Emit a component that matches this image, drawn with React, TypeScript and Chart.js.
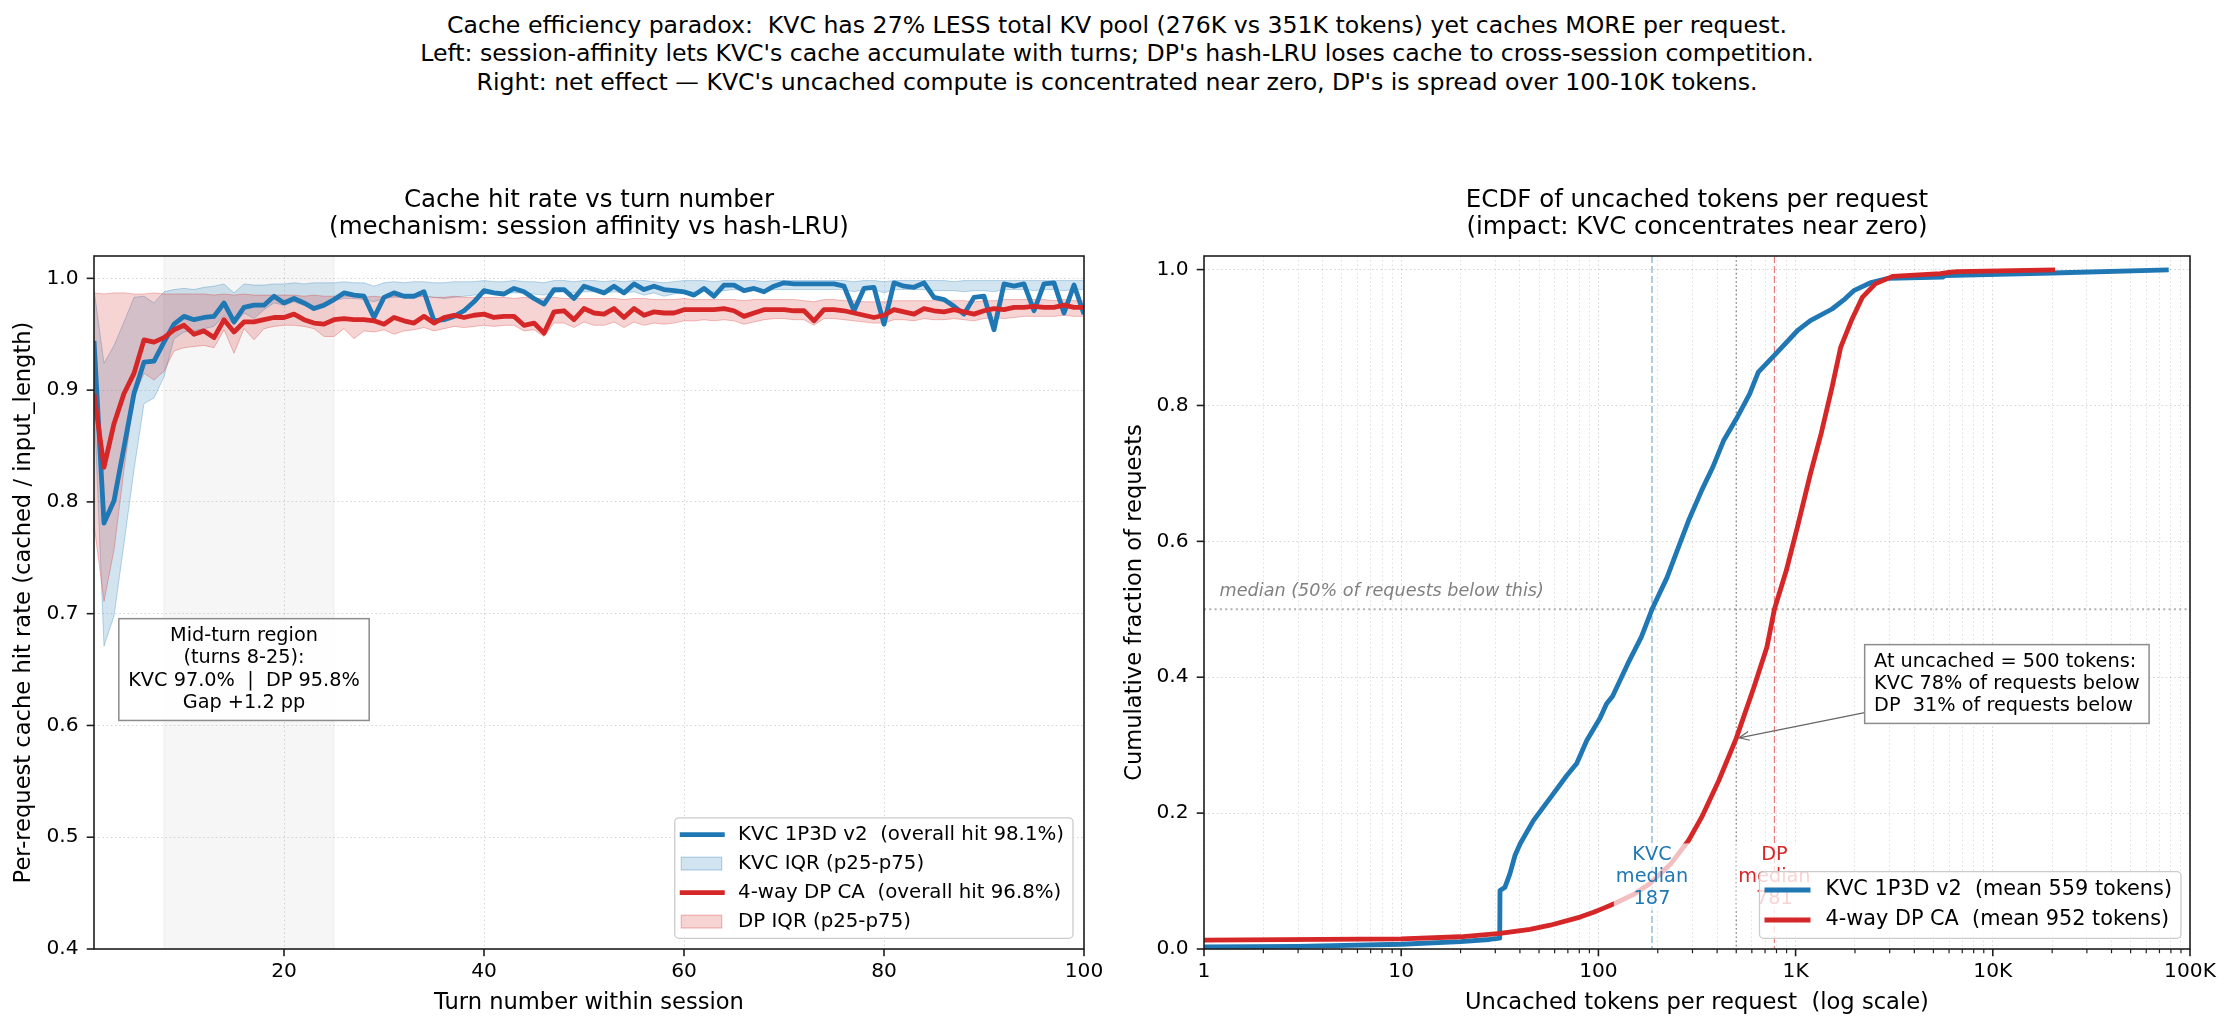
import { useEffect, useRef } from "react";
import { Chart, registerables } from "chart.js";

Chart.register(...registerables);

// ---------------------------------------------------------------------------
// Left panel: per-request cache hit rate by turn number (turns 1..100)
// ---------------------------------------------------------------------------
const kvcMean = [
  0.944, 0.781, 0.801, 0.849, 0.897, 0.925, 0.926, 0.943, 0.959, 0.966,
  0.963, 0.965, 0.966, 0.978, 0.961, 0.974, 0.976, 0.976, 0.984, 0.978,
  0.982, 0.978, 0.973, 0.976, 0.981, 0.987, 0.985, 0.984, 0.965, 0.983,
  0.987, 0.984, 0.984, 0.988, 0.962, 0.963, 0.966, 0.971, 0.979, 0.989,
  0.987, 0.986, 0.991, 0.988, 0.982, 0.977, 0.990, 0.990, 0.982, 0.993,
  0.990, 0.987, 0.993, 0.987, 0.995, 0.990, 0.993, 0.990, 0.989, 0.988,
  0.985, 0.991, 0.984, 0.994, 0.994, 0.989, 0.991, 0.988, 0.993, 0.996,
  0.995, 0.995, 0.995, 0.995, 0.995, 0.993, 0.971, 0.991, 0.992, 0.959,
  0.996, 0.993, 0.992, 0.996, 0.983, 0.981, 0.975, 0.968, 0.983, 0.984,
  0.954, 0.995, 0.993, 0.995, 0.971, 0.995, 0.996, 0.969, 0.994, 0.968,
];
const kvcP25 = [
  0.890, 0.671, 0.698, 0.763, 0.829, 0.888, 0.893, 0.912, 0.946, 0.952,
  0.953, 0.955, 0.957, 0.967, 0.958, 0.969, 0.964, 0.972, 0.978, 0.976,
  0.979, 0.976, 0.975, 0.978, 0.980, 0.982, 0.982, 0.981, 0.979, 0.982,
  0.983, 0.983, 0.984, 0.984, 0.983, 0.982, 0.983, 0.984, 0.985, 0.986,
  0.986, 0.987, 0.987, 0.987, 0.986, 0.985, 0.987, 0.988, 0.987, 0.988,
  0.988, 0.987, 0.988, 0.987, 0.988, 0.985, 0.987, 0.984, 0.986, 0.988,
  0.988, 0.989, 0.988, 0.989, 0.990, 0.989, 0.989, 0.989, 0.990, 0.990,
  0.990, 0.990, 0.990, 0.990, 0.990, 0.990, 0.988, 0.990, 0.990, 0.987,
  0.990, 0.990, 0.990, 0.990, 0.989, 0.989, 0.989, 0.988, 0.989, 0.989,
  0.988, 0.990, 0.990, 0.990, 0.989, 0.990, 0.990, 0.989, 0.990, 0.990,
];
const kvcP75 = [
  0.990, 0.924, 0.940, 0.961, 0.983, 0.984, 0.978, 0.988, 0.990, 0.991,
  0.990, 0.992, 0.993, 0.995, 0.987, 0.995, 0.994, 0.994, 0.995, 0.995,
  0.996, 0.995, 0.996, 0.996, 0.996, 0.997, 0.996, 0.996, 0.993, 0.996,
  0.997, 0.996, 0.997, 0.997, 0.996, 0.996, 0.997, 0.997, 0.997, 0.998,
  0.997, 0.997, 0.998, 0.997, 0.997, 0.996, 0.998, 0.998, 0.997, 0.998,
  0.998, 0.997, 0.998, 0.997, 0.998, 0.998, 0.997, 0.996, 0.997, 0.998,
  0.998, 0.998, 0.997, 0.998, 0.998, 0.998, 0.998, 0.997, 0.998, 0.998,
  0.998, 0.998, 0.998, 0.998, 0.998, 0.998, 0.997, 0.998, 0.998, 0.997,
  0.998, 0.998, 0.998, 0.998, 0.998, 0.998, 0.997, 0.998, 0.998, 0.998,
  0.998, 0.998, 0.998, 0.998, 0.998, 0.998, 0.998, 0.998, 0.998, 0.998,
];
const dpMean = [
  0.897, 0.831, 0.870, 0.897, 0.915, 0.945, 0.943, 0.947, 0.954, 0.958,
  0.950, 0.953, 0.947, 0.963, 0.952, 0.961, 0.961, 0.963, 0.965, 0.965,
  0.968, 0.963, 0.960, 0.959, 0.963, 0.964, 0.963, 0.963, 0.962, 0.959,
  0.965, 0.962, 0.960, 0.966, 0.960, 0.965, 0.967, 0.965, 0.967, 0.968,
  0.965, 0.966, 0.966, 0.958, 0.960, 0.951, 0.970, 0.971, 0.963, 0.973,
  0.969, 0.968, 0.973, 0.965, 0.973, 0.967, 0.970, 0.969, 0.969, 0.972,
  0.972, 0.972, 0.972, 0.973, 0.971, 0.966, 0.969, 0.972, 0.972, 0.972,
  0.971, 0.971, 0.962, 0.972, 0.972, 0.971, 0.969, 0.967, 0.965, 0.967,
  0.972, 0.970, 0.968, 0.973, 0.971, 0.970, 0.972, 0.970, 0.968, 0.971,
  0.973, 0.972, 0.974, 0.974, 0.975, 0.974, 0.974, 0.976, 0.974, 0.974,
];
const dpP25 = [
  0.780, 0.711, 0.757, 0.829, 0.894, 0.915, 0.909, 0.917, 0.935, 0.938,
  0.939, 0.940, 0.938, 0.954, 0.933, 0.955, 0.945, 0.955, 0.957, 0.958,
  0.958, 0.957, 0.955, 0.948, 0.948, 0.955, 0.946, 0.953, 0.952, 0.954,
  0.950, 0.953, 0.954, 0.956, 0.953, 0.955, 0.957, 0.956, 0.957, 0.958,
  0.957, 0.958, 0.958, 0.953, 0.954, 0.948, 0.960, 0.960, 0.956, 0.961,
  0.958, 0.958, 0.961, 0.956, 0.961, 0.958, 0.960, 0.959, 0.960, 0.962,
  0.962, 0.963, 0.962, 0.963, 0.962, 0.959, 0.961, 0.963, 0.964, 0.964,
  0.963, 0.963, 0.958, 0.964, 0.964, 0.963, 0.962, 0.961, 0.960, 0.960,
  0.963, 0.963, 0.962, 0.964, 0.963, 0.963, 0.964, 0.963, 0.962, 0.964,
  0.965, 0.964, 0.965, 0.966, 0.966, 0.966, 0.966, 0.967, 0.966, 0.966,
];
const dpP75 = [
  0.987, 0.986, 0.987, 0.987, 0.986, 0.986, 0.987, 0.986, 0.986, 0.986,
  0.986, 0.986, 0.985, 0.986, 0.985, 0.986, 0.985, 0.985, 0.985, 0.985,
  0.985, 0.984, 0.985, 0.984, 0.984, 0.984, 0.984, 0.983, 0.984, 0.983,
  0.984, 0.983, 0.983, 0.984, 0.983, 0.983, 0.984, 0.983, 0.983, 0.983,
  0.983, 0.983, 0.982, 0.983, 0.982, 0.982, 0.983, 0.982, 0.982, 0.982,
  0.982, 0.982, 0.982, 0.981, 0.982, 0.982, 0.981, 0.981, 0.981, 0.982,
  0.981, 0.981, 0.981, 0.981, 0.981, 0.980, 0.981, 0.981, 0.981, 0.981,
  0.981, 0.980, 0.979, 0.981, 0.981, 0.980, 0.980, 0.979, 0.979, 0.979,
  0.980, 0.980, 0.980, 0.980, 0.980, 0.980, 0.980, 0.980, 0.979, 0.980,
  0.980, 0.981, 0.981, 0.981, 0.981, 0.981, 0.980, 0.981, 0.980, 0.980,
];
const turnTicks = [20, 40, 60, 80, 100];
const hitTicks = [0.4, 0.5, 0.6, 0.7, 0.8, 0.9, 1.0];
const midTurnSpan = [8, 25];
const kvcMidTurnHit = 97.0;
const dpMidTurnHit = 95.8;
const kvcOverallHit = 98.1;
const dpOverallHit = 96.8;

// ---------------------------------------------------------------------------
// Right panel: ECDF of uncached tokens per request
// ---------------------------------------------------------------------------
const kvcEcdfTokens = [
  1, 3, 10, 20, 28, 31.6, 31.7, 33.6, 35.6, 37.8, 40.1, 46.8, 56.9, 69, 77.6,
  87.3, 95, 102, 110, 118, 141, 165, 187, 223, 259, 287, 334, 380, 431, 500,
  585, 647, 793, 1021, 1188, 1531, 1782, 1972, 2414, 2943, 5600, 5700, 20000, 78000,
];
const kvcEcdfFrac = [
  0.003, 0.004, 0.007, 0.011, 0.014, 0.016, 0.086, 0.091, 0.111, 0.138, 0.155, 0.189, 0.222, 0.255, 0.273,
  0.307, 0.325, 0.340, 0.361, 0.372, 0.420, 0.459, 0.500, 0.547, 0.597, 0.631, 0.675, 0.709, 0.748, 0.780,
  0.817, 0.849, 0.876, 0.910, 0.925, 0.942, 0.957, 0.969, 0.981, 0.987, 0.989, 0.991, 0.995, 0.9995,
];
const dpEcdfTokens = [
  1, 10, 20, 31.7, 45, 56.9, 80.7, 94.5, 102, 121, 150, 182, 234, 287, 334, 408, 500,
  614, 715, 781, 897, 1021, 1188, 1346, 1531, 1694, 1918, 2178, 2535, 3102, 5418, 6000, 6610, 20700,
];
const dpEcdfFrac = [
  0.013, 0.015, 0.018, 0.023, 0.029, 0.035, 0.047, 0.054, 0.058, 0.067, 0.080, 0.096, 0.126, 0.160, 0.194, 0.248, 0.310,
  0.385, 0.444, 0.500, 0.557, 0.621, 0.699, 0.758, 0.827, 0.886, 0.925, 0.959, 0.979, 0.990, 0.994, 0.996, 0.997, 0.9995,
];
const tokenTicks = [
  1, 2, 3, 4, 5, 6, 7, 8, 9,
  10, 20, 30, 40, 50, 60, 70, 80, 90,
  100, 200, 300, 400, 500, 600, 700, 800, 900,
  1000, 2000, 3000, 4000, 5000, 6000, 7000, 8000, 9000,
  10000, 20000, 30000, 40000, 50000, 60000, 70000, 80000, 90000,
  100000,
];
const tokenTickLabels: Record<number, string> = { 1: "1", 10: "10", 100: "100", 1000: "1K", 10000: "10K", 100000: "100K" };
const fracTicks = [0, 0.2, 0.4, 0.6, 0.8, 1.0];
const kvcMedianTokens = 187;
const dpMedianTokens = 781;
const probeTokens = 500;
const kvcBelowProbe = 78;
const dpBelowProbe = 31;
const kvcMeanTokens = 559;
const dpMeanTokens = 952;

// ---------------------------------------------------------------------------
// Text
// ---------------------------------------------------------------------------
const suptitleLines = [
  "Cache efficiency paradox:  KVC has 27% LESS total KV pool (276K vs 351K tokens) yet caches MORE per request.",
  "Left: session-affinity lets KVC's cache accumulate with turns; DP's hash-LRU loses cache to cross-session competition.",
  "Right: net effect \u2014 KVC's uncached compute is concentrated near zero, DP's is spread over 100-10K tokens.",
];
const leftTitle = ["Cache hit rate vs turn number", "(mechanism: session affinity vs hash-LRU)"];
const rightTitle = ["ECDF of uncached tokens per request", "(impact: KVC concentrates near zero)"];
const leftXLabel = "Turn number within session";
const leftYLabel = "Per-request cache hit rate (cached / input_length)";
const rightXLabel = "Uncached tokens per request  (log scale)";
const rightYLabel = "Cumulative fraction of requests";
const midTurnNote = [
  "Mid-turn region",
  `(turns ${midTurnSpan[0]}-${midTurnSpan[1]}):`,
  `KVC ${kvcMidTurnHit.toFixed(1)}%  |  DP ${dpMidTurnHit.toFixed(1)}%`,
  `Gap +${(kvcMidTurnHit - dpMidTurnHit).toFixed(1)} pp`,
];
const medianCaption = "median (50% of requests below this)";
const probeNote = [
  `At uncached = ${probeTokens} tokens:`,
  `KVC ${kvcBelowProbe}% of requests below`,
  `DP  ${dpBelowProbe}% of requests below`,
];

// ---------------------------------------------------------------------------
// Styling
// ---------------------------------------------------------------------------
const FONT = '"DejaVu Sans", Verdana, sans-serif';
const BLUE = "#1f77b4";
const RED = "#d62728";
const BLUE_FILL = "rgba(31,119,180,0.2)";
const BLUE_EDGE = "rgba(31,119,180,0.3)";
const RED_FILL = "rgba(214,39,40,0.2)";
const RED_EDGE = "rgba(214,39,40,0.3)";
const GRID = "rgba(0,0,0,0.16)";
const GRID_DASH = [1.6, 2.6];
const INK = "#1e1e1e";
const FS = { sup: 23.6, title: 24.5, tick: 20.2, label: 22.6, legendL: 19.8, legendR: 20.8, note: 19.3, small: 17.6 };
const LINE_W = 4.8;

// ---------------------------------------------------------------------------
// Drawing helpers
// ---------------------------------------------------------------------------
type Ctx = CanvasRenderingContext2D;

function font(ctx: Ctx, size: number, style = "") {
  ctx.font = `${style} ${size}px ${FONT}`.trim();
}

function text(
  ctx: Ctx, s: string, x: number, y: number, size: number,
  o: { align?: CanvasTextAlign; baseline?: CanvasTextBaseline; color?: string; style?: string; rotate?: number } = {}
) {
  ctx.save();
  font(ctx, size, o.style || "");
  ctx.fillStyle = o.color || "#000";
  ctx.textAlign = o.align || "center";
  ctx.textBaseline = o.baseline || "middle";
  ctx.translate(x, y);
  if (o.rotate) ctx.rotate(o.rotate);
  ctx.fillText(s, 0, 0);
  ctx.restore();
}

function maxWidth(ctx: Ctx, lines: string[], size: number) {
  ctx.save();
  font(ctx, size);
  const w = Math.max(...lines.map((l) => ctx.measureText(l).width));
  ctx.restore();
  return w;
}

function textBlock(ctx: Ctx, lines: string[], x: number, cy: number, size: number, lineH: number, align: CanvasTextAlign, color = "#000") {
  const n = lines.length;
  lines.forEach((l, i) => text(ctx, l, x, cy + (i - (n - 1) / 2) * lineH, size, { align, color }));
}

function frame(ctx: Ctx, a: any) {
  ctx.save();
  ctx.strokeStyle = INK;
  ctx.lineWidth = 1.6;
  ctx.strokeRect(a.left, a.top, a.right - a.left, a.bottom - a.top);
  ctx.restore();
}

function tickMarksX(ctx: Ctx, scale: any, yBase: number, values: number[], isMajor: (v: number) => boolean) {
  ctx.save();
  ctx.strokeStyle = INK;
  values.forEach((v) => {
    const major = isMajor(v);
    const px = scale.getPixelForValue(v);
    ctx.lineWidth = major ? 1.6 : 1.2;
    ctx.beginPath();
    ctx.moveTo(px, yBase);
    ctx.lineTo(px, yBase + (major ? 7.3 : 4.2));
    ctx.stroke();
  });
  ctx.restore();
}

function tickMarksY(ctx: Ctx, scale: any, xBase: number, values: number[]) {
  ctx.save();
  ctx.strokeStyle = INK;
  ctx.lineWidth = 1.6;
  values.forEach((v) => {
    const py = scale.getPixelForValue(v);
    ctx.beginPath();
    ctx.moveTo(xBase - 7.3, py);
    ctx.lineTo(xBase, py);
    ctx.stroke();
  });
  ctx.restore();
}

function vline(ctx: Ctx, x: number, a: any, color: string, width: number, dash: number[]) {
  ctx.save();
  ctx.strokeStyle = color;
  ctx.lineWidth = width;
  ctx.setLineDash(dash);
  ctx.beginPath();
  ctx.moveTo(x, a.top);
  ctx.lineTo(x, a.bottom);
  ctx.stroke();
  ctx.restore();
}

function hline(ctx: Ctx, y: number, a: any, color: string, width: number, dash: number[]) {
  ctx.save();
  ctx.strokeStyle = color;
  ctx.lineWidth = width;
  ctx.setLineDash(dash);
  ctx.beginPath();
  ctx.moveTo(a.left, y);
  ctx.lineTo(a.right, y);
  ctx.stroke();
  ctx.restore();
}

function noteBox(ctx: Ctx, left: number, top: number, w: number, h: number, fill: string, edge: string | null) {
  ctx.save();
  ctx.fillStyle = fill;
  ctx.fillRect(left, top, w, h);
  if (edge) {
    ctx.strokeStyle = edge;
    ctx.lineWidth = 1.5;
    ctx.strokeRect(left, top, w, h);
  }
  ctx.restore();
}

type LegendItem = { label: string; kind: "line" | "patch"; color: string; fill?: string };

function legend(ctx: Ctx, items: LegendItem[], right: number, bottom: number, size: number, rowH: number, padY: number, handle: [number, number]) {
  const w = maxWidth(ctx, items.map((i) => i.label), size);
  const textX = right - 9 - w;
  const left = textX - handle[0] - 5;
  const height = padY * 2 + rowH * (items.length - 1);
  const top = bottom - height;
  ctx.save();
  ctx.beginPath();
  (ctx as any).roundRect(left, top, right - left, height, 4);
  ctx.fillStyle = "rgba(255,255,255,0.8)";
  ctx.fill();
  ctx.strokeStyle = "#cccccc";
  ctx.lineWidth = 1.3;
  ctx.stroke();
  items.forEach((it, i) => {
    const cy = top + padY + i * rowH;
    if (it.kind === "line") {
      ctx.strokeStyle = it.color;
      ctx.lineWidth = LINE_W;
      ctx.beginPath();
      ctx.moveTo(textX - handle[0], cy);
      ctx.lineTo(textX - handle[1], cy);
      ctx.stroke();
    } else {
      const x0 = textX - handle[0] + 1.5;
      const x1 = textX - handle[1] - 3;
      ctx.fillStyle = it.fill || it.color;
      ctx.fillRect(x0, cy - 6.4, x1 - x0, 12.8);
      ctx.strokeStyle = it.color;
      ctx.lineWidth = 1.2;
      ctx.strokeRect(x0, cy - 6.4, x1 - x0, 12.8);
    }
    text(ctx, it.label, textX, cy, size, { align: "left" });
  });
  ctx.restore();
}

function arrow(ctx: Ctx, x0: number, y0: number, x1: number, y1: number, color: string) {
  const ang = Math.atan2(y1 - y0, x1 - x0);
  const hl = 10;
  const hw = 4.5;
  ctx.save();
  ctx.strokeStyle = color;
  ctx.lineWidth = 1.2;
  ctx.beginPath();
  ctx.moveTo(x0, y0);
  ctx.lineTo(x1, y1);
  ctx.stroke();
  ctx.beginPath();
  ctx.moveTo(x1 - hl * Math.cos(ang) + hw * Math.sin(ang), y1 - hl * Math.sin(ang) - hw * Math.cos(ang));
  ctx.lineTo(x1, y1);
  ctx.lineTo(x1 - hl * Math.cos(ang) - hw * Math.sin(ang), y1 - hl * Math.sin(ang) + hw * Math.cos(ang));
  ctx.stroke();
  ctx.restore();
}

// ---------------------------------------------------------------------------
// Left chart
// ---------------------------------------------------------------------------
const LEFT_W = 1120;
const CANVAS_H = 1030;

const hitRateDecor = {
  id: "hitRateDecor",
  beforeDatasetsDraw(chart: any) {
    const { ctx, chartArea: a, scales } = chart;
    const x0 = scales.x.getPixelForValue(midTurnSpan[0]);
    const x1 = scales.x.getPixelForValue(midTurnSpan[1]);
    ctx.save();
    ctx.fillStyle = "rgba(128,128,128,0.075)";
    ctx.fillRect(x0, a.top, x1 - x0, a.bottom - a.top);
    ctx.strokeStyle = "rgba(128,128,128,0.12)";
    ctx.lineWidth = 1;
    ctx.beginPath();
    ctx.moveTo(x0, a.top);
    ctx.lineTo(x0, a.bottom);
    ctx.moveTo(x1, a.top);
    ctx.lineTo(x1, a.bottom);
    ctx.stroke();
    ctx.restore();
  },
  afterDraw(chart: any) {
    const { ctx, chartArea: a, scales } = chart;
    const { x, y } = scales;
    frame(ctx, a);
    tickMarksX(ctx, x, a.bottom, turnTicks, () => true);
    tickMarksY(ctx, y, a.left, hitTicks);

    const cx = (a.left + a.right) / 2;
    text(ctx, leftTitle[0], cx, 201, FS.title);
    text(ctx, leftTitle[1], cx, 228, FS.title);
    text(ctx, leftXLabel, cx, 1003, FS.label);
    text(ctx, leftYLabel, 24, (a.top + a.bottom) / 2, FS.label, { rotate: -Math.PI / 2 });

    // mid-turn summary box
    const bx = x.getPixelForValue(16);
    const by = y.getPixelForValue(0.65);
    const lineH = 22.2;
    const w = maxWidth(ctx, midTurnNote, FS.note);
    const h = lineH * (midTurnNote.length - 1) + 35.2;
    noteBox(ctx, bx - w / 2 - 9.4, by - h / 2, w + 18.8, h, "rgba(255,255,255,0.92)", "#8c8c8c");
    textBlock(ctx, midTurnNote, bx, by, FS.note, lineH, "center");

    legend(
      ctx,
      [
        { label: `KVC 1P3D v2  (overall hit ${kvcOverallHit.toFixed(1)}%)`, kind: "line", color: BLUE },
        { label: "KVC IQR (p25-p75)", kind: "patch", color: BLUE_EDGE, fill: BLUE_FILL },
        { label: `4-way DP CA  (overall hit ${dpOverallHit.toFixed(1)}%)`, kind: "line", color: RED },
        { label: "DP IQR (p25-p75)", kind: "patch", color: RED_EDGE, fill: RED_FILL },
      ],
      a.right - 11,
      a.bottom - 10.7,
      FS.legendL,
      29,
      16.7,
      [58.3, 13.3]
    );
  },
};

function HitRateChart() {
  const ref = useRef<HTMLCanvasElement | null>(null);
  useEffect(() => {
    const canvas = ref.current;
    if (!canvas) return;
    const series = (vals: number[]) => vals.map((v, i) => ({ x: i + 1, y: v }));
    const chart = new Chart(canvas, {
      type: "line",
      data: {
        datasets: [
          { label: "4-way DP CA", data: series(dpMean), borderColor: RED, borderWidth: LINE_W, order: 1 },
          { label: "KVC 1P3D v2", data: series(kvcMean), borderColor: BLUE, borderWidth: LINE_W, order: 2 },
          { label: "DP p25", data: series(dpP25), borderColor: RED_EDGE, borderWidth: 1, fill: false, order: 4 },
          { label: "DP p75", data: series(dpP75), borderColor: RED_EDGE, borderWidth: 1, backgroundColor: RED_FILL, fill: "-1", order: 3 },
          { label: "KVC p25", data: series(kvcP25), borderColor: BLUE_EDGE, borderWidth: 1, fill: false, order: 6 },
          { label: "KVC p75", data: series(kvcP75), borderColor: BLUE_EDGE, borderWidth: 1, backgroundColor: BLUE_FILL, fill: "-1", order: 5 },
        ],
      } as any,
      options: {
        responsive: false,
        animation: false,
        devicePixelRatio: 1,
        events: [],
        layout: { padding: { top: 256, right: LEFT_W - 1084, left: 0, bottom: 0 } },
        elements: {
          point: { radius: 0 },
          line: { tension: 0, borderJoinStyle: "round", borderCapStyle: "butt" },
        },
        plugins: { legend: { display: false }, tooltip: { enabled: false }, title: { display: false } },
        scales: {
          x: {
            type: "linear",
            min: 1,
            max: 100,
            afterBuildTicks: (s: any) => { s.ticks = turnTicks.map((v) => ({ value: v })); },
            afterFit: (s: any) => { s.height = CANVAS_H - 949; },
            grid: { color: GRID, lineWidth: 1, drawTicks: false },
            border: { display: false, dash: GRID_DASH },
            ticks: {
              autoSkip: false, maxRotation: 0, padding: 10.3, color: "#000",
              font: { family: FONT, size: FS.tick },
              callback: (v: any) => String(v),
            },
          },
          y: {
            type: "linear",
            min: 0.4,
            max: 1.02,
            afterBuildTicks: (s: any) => { s.ticks = hitTicks.map((v) => ({ value: v })); },
            afterFit: (s: any) => { s.width = 94; },
            grid: { color: GRID, lineWidth: 1, drawTicks: false },
            border: { display: false, dash: GRID_DASH },
            ticks: {
              autoSkip: false, padding: 15.5, color: "#000",
              font: { family: FONT, size: FS.tick },
              callback: (v: any) => Number(v).toFixed(1),
            },
          },
        },
      } as any,
      plugins: [hitRateDecor],
    });
    return () => chart.destroy();
  }, []);
  return <canvas ref={ref} width={LEFT_W} height={CANVAS_H} style={{ position: "absolute", left: 0, top: 0 }} />;
}

// ---------------------------------------------------------------------------
// Right chart
// ---------------------------------------------------------------------------
const RIGHT_X = 1100;
const RIGHT_W = 2234 - RIGHT_X;
const isDecade = (v: number) => tokenTickLabels[v] !== undefined;

function medianLabel(ctx: Ctx, lines: string[], cx: number, cy: number, color: string) {
  const lineH = 21.7;
  const w = maxWidth(ctx, lines, FS.note);
  const h = lineH * lines.length + 2;
  noteBox(ctx, cx - w / 2 - 2, cy - h / 2, w + 4, h, "rgba(255,255,255,0.7)", null);
  textBlock(ctx, lines, cx, cy, FS.note, lineH, "center", color);
}

const ecdfDecor = {
  id: "ecdfDecor",
  beforeDatasetsDraw(chart: any) {
    const { ctx, chartArea: a, scales } = chart;
    const { x, y } = scales;
    hline(ctx, y.getPixelForValue(0.5), a, "rgba(150,150,150,0.75)", 2, [2, 3.3]);
    vline(ctx, x.getPixelForValue(kvcMedianTokens), a, "rgba(31,119,180,0.6)", 1.2, [7, 3]);
    vline(ctx, x.getPixelForValue(probeTokens), a, "rgba(90,90,90,0.7)", 1.3, [1.6, 2.6]);
    vline(ctx, x.getPixelForValue(dpMedianTokens), a, "rgba(214,39,40,0.6)", 1.2, [7, 3]);
  },
  afterDatasetsDraw(chart: any) {
    const { ctx, scales } = chart;
    const { x, y } = scales;
    text(ctx, medianCaption, x.getPixelForValue(1.2), y.getPixelForValue(0.52), FS.small, {
      align: "left", baseline: "alphabetic", color: "#808080", style: "italic",
    });
    medianLabel(ctx, ["KVC", "median", String(kvcMedianTokens)], x.getPixelForValue(kvcMedianTokens), y.getPixelForValue(0.106), BLUE);
    medianLabel(ctx, ["DP", "median", String(dpMedianTokens)], x.getPixelForValue(dpMedianTokens), y.getPixelForValue(0.106), RED);

    // probe annotation with arrow to the DP curve at 500 tokens
    const lineH = 21.8;
    const tx = x.getPixelForValue(2500);
    const cy = y.getPixelForValue(0.39);
    const w = maxWidth(ctx, probeNote, FS.note);
    const h = lineH * (probeNote.length - 1) + 35.2;
    const box = { left: tx - 9.4, right: tx + w + 9.4, top: cy - h / 2, bottom: cy + h / 2 };
    const bcx = (box.left + box.right) / 2;
    const px = x.getPixelForValue(probeTokens);
    const py = y.getPixelForValue(dpBelowProbe / 100);
    const dx = px - bcx;
    const dy = py - cy;
    let t = Infinity;
    if (dx < 0) t = Math.min(t, (box.left - bcx) / dx);
    if (dx > 0) t = Math.min(t, (box.right - bcx) / dx);
    if (dy < 0) t = Math.min(t, (box.top - cy) / dy);
    if (dy > 0) t = Math.min(t, (box.bottom - cy) / dy);
    const sx = bcx + dx * t;
    const sy = cy + dy * t;
    const len = Math.hypot(px - sx, py - sy);
    const ex = px - ((px - sx) / len) * 3;
    const ey = py - ((py - sy) / len) * 3;
    arrow(ctx, sx, sy, ex, ey, "#666666");
    noteBox(ctx, box.left, box.top, box.right - box.left, box.bottom - box.top, "rgba(255,255,255,0.92)", "#8c8c8c");
    textBlock(ctx, probeNote, tx, cy, FS.note, lineH, "left");
  },
  afterDraw(chart: any) {
    const { ctx, chartArea: a, scales } = chart;
    const { x, y } = scales;
    frame(ctx, a);
    tickMarksX(ctx, x, a.bottom, tokenTicks, isDecade);
    tickMarksY(ctx, y, a.left, fracTicks);

    const cx = (a.left + a.right) / 2;
    text(ctx, rightTitle[0], cx, 201, FS.title);
    text(ctx, rightTitle[1], cx, 228, FS.title);
    text(ctx, rightXLabel, cx, 1003, FS.label);
    text(ctx, rightYLabel, 1135 - RIGHT_X, (a.top + a.bottom) / 2, FS.label, { rotate: -Math.PI / 2 });

    legend(
      ctx,
      [
        { label: `KVC 1P3D v2  (mean ${kvcMeanTokens} tokens)`, kind: "line", color: BLUE },
        { label: `4-way DP CA  (mean ${dpMeanTokens} tokens)`, kind: "line", color: RED },
      ],
      a.right - 9,
      a.bottom - 10.7,
      FS.legendR,
      30,
      18.3,
      [61, 15]
    );
  },
};

function EcdfChart() {
  const ref = useRef<HTMLCanvasElement | null>(null);
  useEffect(() => {
    const canvas = ref.current;
    if (!canvas) return;
    const curve = (xs: number[], ys: number[]) => xs.map((v, i) => ({ x: v, y: ys[i] }));
    const chart = new Chart(canvas, {
      type: "line",
      data: {
        datasets: [
          { label: "4-way DP CA", data: curve(dpEcdfTokens, dpEcdfFrac), borderColor: RED, borderWidth: LINE_W, order: 1 },
          { label: "KVC 1P3D v2", data: curve(kvcEcdfTokens, kvcEcdfFrac), borderColor: BLUE, borderWidth: LINE_W, order: 2 },
        ],
      } as any,
      options: {
        responsive: false,
        animation: false,
        devicePixelRatio: 1,
        events: [],
        layout: { padding: { top: 256, right: RIGHT_W - (2190 - RIGHT_X), left: 0, bottom: 0 } },
        elements: {
          point: { radius: 0 },
          line: { tension: 0, borderJoinStyle: "round", borderCapStyle: "butt" },
        },
        plugins: { legend: { display: false }, tooltip: { enabled: false }, title: { display: false } },
        scales: {
          x: {
            type: "logarithmic",
            min: 1,
            max: 100000,
            afterBuildTicks: (s: any) => { s.ticks = tokenTicks.map((v) => ({ value: v, major: isDecade(v) })); },
            afterFit: (s: any) => { s.height = CANVAS_H - 949; },
            grid: {
              color: (c: any) => (c.tick && isDecade(c.tick.value) ? GRID : "rgba(0,0,0,0.12)"),
              lineWidth: 1,
              drawTicks: false,
            },
            border: { display: false, dash: GRID_DASH },
            ticks: {
              autoSkip: false, maxRotation: 0, padding: 10.3, color: "#000",
              font: { family: FONT, size: FS.tick },
              callback: (v: any) => tokenTickLabels[Number(v)] || "",
            },
          },
          y: {
            type: "linear",
            min: 0,
            max: 1.02,
            afterBuildTicks: (s: any) => { s.ticks = fracTicks.map((v) => ({ value: v })); },
            afterFit: (s: any) => { s.width = 1204 - RIGHT_X; },
            grid: { color: GRID, lineWidth: 1, drawTicks: false },
            border: { display: false, dash: GRID_DASH },
            ticks: {
              autoSkip: false, padding: 15.5, color: "#000",
              font: { family: FONT, size: FS.tick },
              callback: (v: any) => Number(v).toFixed(1),
            },
          },
        },
      } as any,
      plugins: [ecdfDecor],
    });
    return () => chart.destroy();
  }, []);
  return <canvas ref={ref} width={RIGHT_W} height={CANVAS_H} style={{ position: "absolute", left: RIGHT_X, top: 0 }} />;
}

// ---------------------------------------------------------------------------
// Page
// ---------------------------------------------------------------------------
export default function App() {
  return (
    <div style={{ position: "absolute", left: 0, top: 0, width: 2234, height: CANVAS_H, background: "#fff", overflow: "hidden" }}>
      <div
        style={{
          position: "absolute", left: 0, top: 11, width: 2234, textAlign: "center",
          fontFamily: FONT, fontSize: FS.sup, lineHeight: "28.3px", whiteSpace: "pre", color: "#000",
        }}
      >
        {suptitleLines.map((l, i) => (
          <div key={i}>{l}</div>
        ))}
      </div>
      <HitRateChart />
      <EcdfChart />
    </div>
  );
}
